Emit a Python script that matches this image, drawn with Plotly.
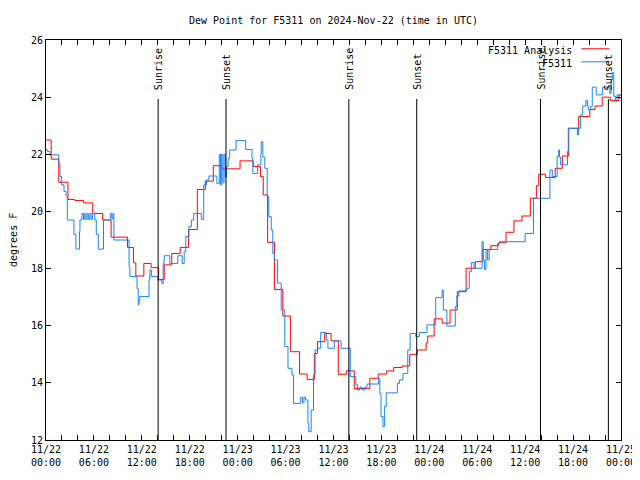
import pandas as pd
import plotly.graph_objects as go

BASE_TIME = "2024-11-22 00:00"

# F5311 Analysis (red), step series: hours after 2024-11-22 00:00 UTC, dew point in F
RED_HOURS = [0.0, 0.65, 1.6, 2.75, 3.6, 4.7, 5.85, 7.1, 8.15, 10.2, 10.95, 11.25, 12.25, 13.15,
             14.1, 14.8, 15.75, 16.8, 17.85, 18.95, 19.95, 20.95, 22.05, 24.3, 25.95, 26.85,
             27.2, 27.75, 28.6, 29.65, 30.6, 31.75, 32.7, 33.6, 34.0, 34.9, 35.7, 36.6, 37.6,
             38.6, 40.55, 41.6, 42.65, 43.55, 44.6, 45.55, 46.5, 47.6, 47.8, 48.6, 49.6, 50.6,
             51.5, 52.6, 53.75, 54.7, 55.7, 56.7, 57.6, 58.6, 59.6, 60.65, 61.4, 61.7, 62.55,
             63.75, 64.65, 65.45, 66.7, 68.1, 68.75, 69.65, 70.65, 71.75, 72.0]
RED_VALUES = [22.5, 21.83, 21.02, 20.42, 20.38, 20.3, 19.93, 19.7, 19.1, 18.74, 18.2, 17.74, 18.18, 18.03,
              17.62, 18.13, 18.53, 18.74, 19.37, 20.77, 21.06, 21.6, 21.49, 21.77, 21.57, 21.22,
              20.58, 18.92, 17.27, 16.34, 15.09, 14.31, 14.12, 15.03, 15.44, 15.73, 15.47, 14.3, 14.42,
              13.8, 14.16, 14.31, 14.42, 14.54, 14.59, 15.0, 15.15, 15.4, 15.64, 16.24, 16.09, 16.55,
              17.19, 18.01, 18.24, 18.67, 18.8, 18.9, 19.27, 19.67, 19.84, 20.46, 20.9, 21.3, 21.19,
              21.51, 21.94, 22.91, 23.32, 23.57, 23.69, 24.0, 23.88, 24.08, 24.08]

# F5311 observations (blue)
BLUE_HOURS = [0.0, 0.15, 0.5, 1.6, 1.75, 1.96, 2.25, 2.5, 2.67, 3.5, 3.75, 4.2, 4.25, 4.5, 4.7,
              4.85, 5.0, 5.15, 5.3, 5.5, 5.65, 5.8, 6.1, 6.3, 6.55, 7.2, 8.1, 8.25, 8.4, 8.5,
              10.4, 10.5, 11.4, 11.55, 11.65, 11.75, 12.9, 13.0, 13.2, 14.0, 14.5, 14.67, 14.8,
              15.5, 16.5, 17.05, 17.3, 17.5, 17.9, 18.2, 18.5, 19.45, 19.75, 20.1, 20.4, 21.4,
              21.7, 21.85, 22.0, 22.15, 22.3, 22.45, 22.6, 22.8, 23.0, 23.8, 25.0, 25.8, 25.9,
              26.5, 26.9, 26.95, 27.15, 27.4, 27.7, 27.9, 28.2, 28.4, 28.6, 28.75, 29.0, 29.45,
              29.9, 30.3, 30.8, 31.0, 31.9, 32.1, 32.3, 32.5, 32.8, 32.9, 33.2, 33.5, 33.7, 34.0,
              34.4, 35.1, 35.3, 36.1, 36.95, 38.1, 38.8, 39.0, 39.3, 39.6, 39.9, 40.2, 41.65,
              41.8, 41.95, 42.2, 42.4, 42.6, 44.0, 44.25, 44.7, 45.3, 45.6, 46.3, 46.75, 47.7,
              48.8, 49.6, 49.75, 50.2, 51.25, 51.45, 51.7, 52.7, 53.0, 53.25, 53.6, 54.6, 54.75,
              54.9, 55.1, 55.3, 55.5, 56.55, 56.75, 60.0, 61.05, 63.1, 63.4, 64.0, 64.2, 64.3,
              64.45, 65.3, 65.4, 66.55, 66.7, 66.95, 67.2, 67.6, 67.8, 67.9, 68.2, 68.4, 68.9,
              69.7, 70.6, 70.75, 70.9, 71.1, 71.3, 71.5, 72.0]
BLUE_VALUES = [22.17, 22.1, 21.98, 21.68, 21.22, 20.93, 20.7, 20.55, 19.7, 19.2, 18.68, 19.3, 19.7, 19.93, 19.72,
               19.93, 19.72, 19.93, 19.72, 19.93, 19.72, 19.93, 19.7, 19.2, 18.68, 19.7, 19.93, 19.75, 19.93, 19.0,
               18.07, 17.72, 17.3, 16.73, 16.9, 17.02, 17.6, 17.95, 17.72, 17.6, 17.48, 18.18, 18.45,
               18.18, 18.45, 18.18, 18.6, 19.12, 19.47, 19.7, 19.93, 19.72, 20.93, 21.1, 21.24, 20.98,
               22.0, 20.93, 22.0, 21.0, 22.0, 21.2, 21.57, 21.85, 22.15, 22.48, 22.17, 21.85, 21.33,
               21.63, 22.0, 22.44, 21.9, 21.51, 20.52, 19.82, 19.35, 18.53, 18.3, 18.3, 17.49, 16.55,
               15.27, 14.51, 14.28, 13.28, 13.5, 13.3, 13.5, 13.4, 12.58, 12.29, 13.05, 14.28, 15.15, 15.21,
               15.76, 15.5, 15.21, 15.47, 15.21, 14.22, 13.93, 13.75, 13.85, 13.75, 13.85, 13.96, 14.16,
               13.63, 12.82, 12.47, 13.17, 13.65, 13.98, 14.1, 14.33, 15.15, 15.73, 15.62, 15.76, 16.03,
               16.99, 17.25, 16.55, 15.99, 16.67, 17.04, 17.22, 17.31, 17.89, 18.21, 18.01, 18.94, 18.3,
               17.97, 18.67, 18.3, 18.67, 18.88, 18.94, 19.23, 20.46, 21.45, 21.22, 21.94, 22.15, 21.9,
               21.63, 22.1, 22.91, 22.68, 22.91, 23.38, 23.69, 23.88, 23.69, 23.55, 23.67, 24.35, 24.08,
               24.35, 24.13, 24.6, 24.86, 24.03, 23.85, 24.08, 24.08]

SUN_HOURS = [14.04, 22.54, 37.92, 46.42, 61.92, 70.42]
SUN_LABELS = ["Sunrise", "Sunset", "Sunrise", "Sunset", "Sunrise", "Sunset"]

TITLE = "Dew Point for F5311 on 2024-Nov-22 (time in UTC)"
Y_TITLE = "degrees F"
SERIES_NAMES = ["F5311 Analysis", "F5311"]
SERIES_COLORS = ["#ff0000", "#1a84f2"]

FONT = "DejaVu Sans Mono"
base = pd.Timestamp(BASE_TIME)

# the page body has an 8px margin, so the figure is 8px smaller and margins 8px less
FIG_W, FIG_H = 632, 472


def to_time(hours):
    return [base + pd.Timedelta(hours=h) for h in hours]


fig = go.Figure()
fig.add_trace(go.Scatter(x=to_time(RED_HOURS), y=RED_VALUES, mode="lines", line_shape="hv",
                         line=dict(color=SERIES_COLORS[0], width=1), name=SERIES_NAMES[0]))
fig.add_trace(go.Scatter(x=to_time(BLUE_HOURS), y=BLUE_VALUES, mode="lines", line_shape="hv",
                         line=dict(color=SERIES_COLORS[1], width=1), name=SERIES_NAMES[1]))

for h, lab in zip(SUN_HOURS, SUN_LABELS):
    t = base + pd.Timedelta(hours=h)
    fig.add_shape(type="line", xref="x", yref="paper", x0=t, x1=t, y0=0, y1=0.8525,
                  line=dict(color="black", width=1))
    fig.add_annotation(x=t, xref="x", y=0.87, yref="paper", text=lab, textangle=-90,
                       showarrow=False, xanchor="center", yanchor="bottom",
                       font=dict(family=FONT, size=10, color="black"))

# legend (text left of the line sample, as in the reference)
leg_y = [0.975, 0.9425]
for name, col, yy in zip(SERIES_NAMES, SERIES_COLORS, leg_y):
    fig.add_annotation(x=0.9183, xref="paper", y=yy, yref="paper", text=name, showarrow=False,
                       xanchor="right", yanchor="middle",
                       font=dict(family=FONT, size=10, color="black"))
    fig.add_shape(type="line", xref="paper", yref="paper", x0=0.931, x1=0.9797,
                  y0=yy + 0.003, y1=yy + 0.003, line=dict(color=col, width=1))

fig.add_annotation(x=-0.0574, xref="paper", y=0.5, yref="paper", text=Y_TITLE, textangle=-90,
                   showarrow=False, xanchor="center", yanchor="middle",
                   font=dict(family=FONT, size=10, color="black"))

fig.update_layout(
    width=FIG_W, height=FIG_H,
    margin=dict(l=38, r=19, t=32, b=40, autoexpand=False),
    paper_bgcolor="white", plot_bgcolor="white",
    showlegend=False,
    title=dict(text=TITLE, x=0.5, xref="paper", xanchor="center", y=1 - 12 / FIG_H, yref="container",
               yanchor="middle", font=dict(family=FONT, size=10, color="black")),
    font=dict(family=FONT, size=10, color="black"),
)
fig.update_xaxes(
    type="date", range=[base, base + pd.Timedelta(hours=72)],
    tick0=base, dtick=6 * 3600 * 1000, tickformat="%m/%d<br>%H:%M",
    ticks="inside", ticklen=5, tickcolor="black", showline=True, linecolor="black", linewidth=1,
    mirror="ticks", showgrid=False, zeroline=False,
    minor=dict(dtick=2 * 3600 * 1000, ticks="inside", ticklen=5, tickcolor="black", showgrid=False),
    tickfont=dict(family=FONT, size=10, color="black"),
)
fig.update_yaxes(
    range=[12, 26], dtick=2, tick0=12,
    ticks="inside", ticklen=5, tickcolor="black", showline=True, linecolor="black", linewidth=1,
    mirror="ticks", showgrid=False, zeroline=False,
    tickfont=dict(family=FONT, size=10, color="black"),
)

fig.write_html("out.html")
